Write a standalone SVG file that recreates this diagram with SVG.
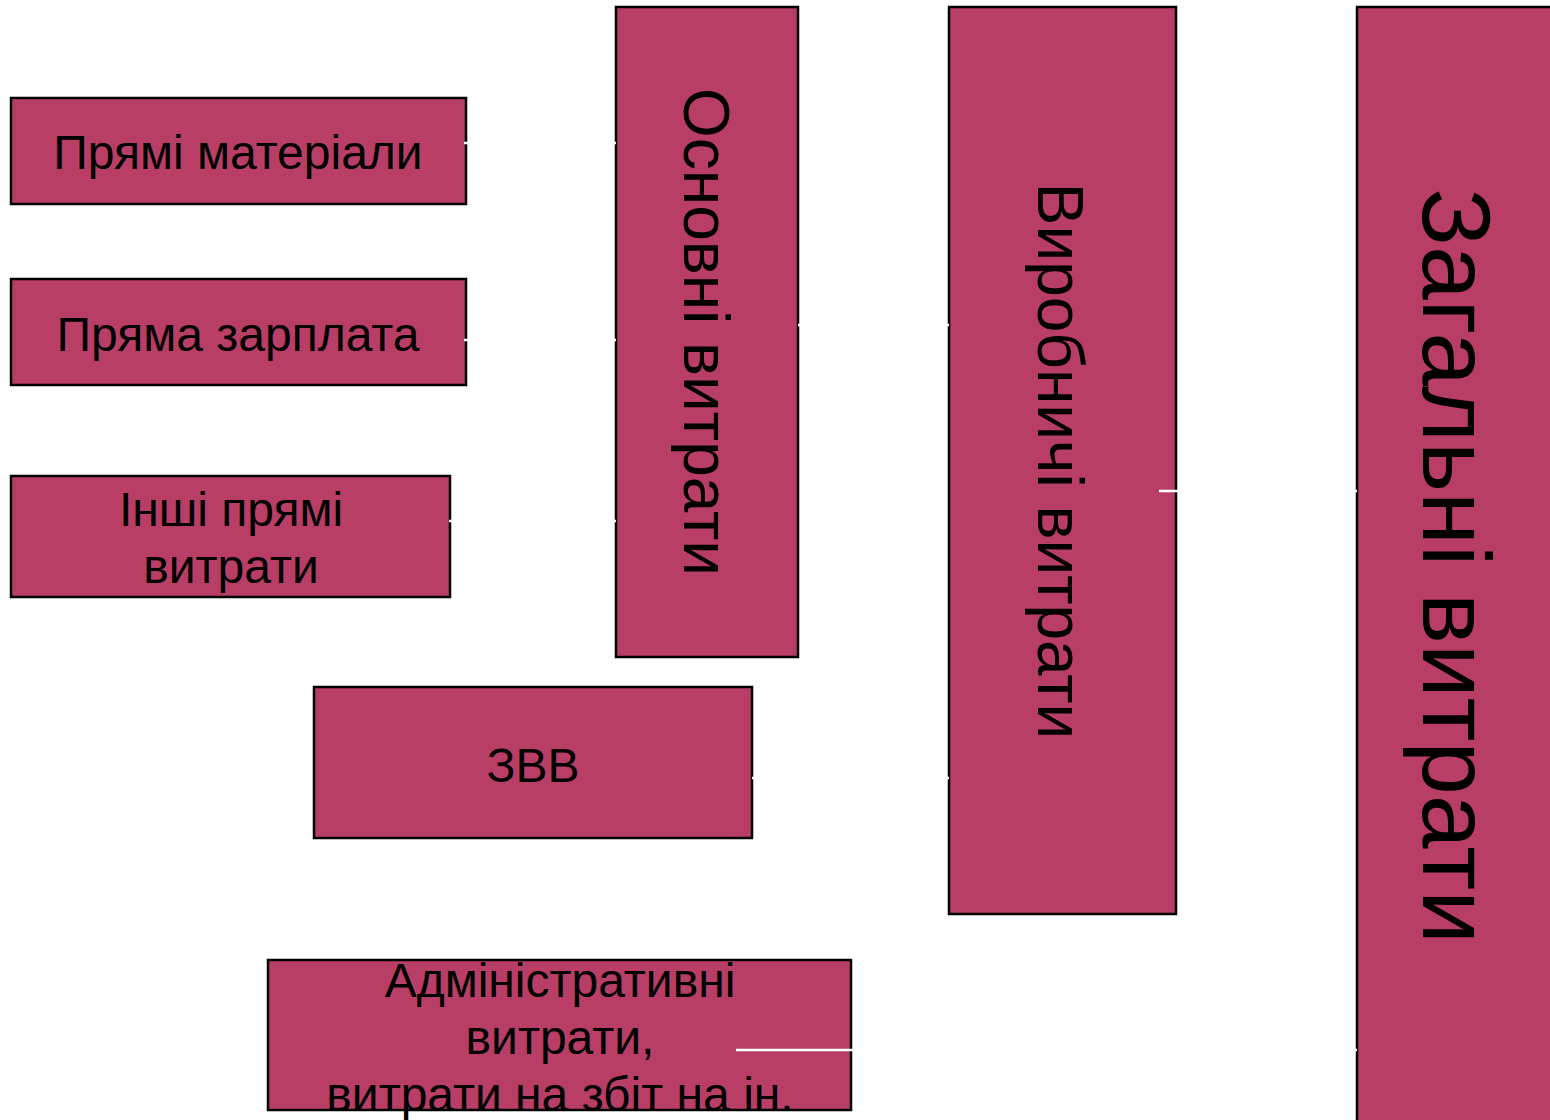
<svg xmlns="http://www.w3.org/2000/svg" width="1550" height="1120" viewBox="0 0 1550 1120">
  <style>
    .box { fill: #B93E66; stroke: #000; stroke-width: 2.5; }
    .t { font-family: "Liberation Sans", Arial, sans-serif; fill: #000; text-anchor: middle; }
    .s { font-size: 48px; }
    .m { font-size: 64px; }
    .l { font-size: 96px; }
    .conn { stroke: #fff; stroke-width: 2.5; fill: none; }
  </style>
  <rect width="1550" height="1120" fill="#fff"/>
  <g id="node-pryami-materialy">
    <rect class="box" x="11" y="98" width="455" height="106"/>
    <text class="t s" x="238" y="169">Прямі матеріали</text>
  </g>
  <g id="node-pryama-zarplata">
    <rect class="box" x="11" y="279" width="455" height="106"/>
    <text class="t s" x="238" y="351">Пряма зарплата</text>
  </g>
  <g id="node-inshi-pryami">
    <rect class="box" x="11" y="476" width="439" height="121"/>
    <text class="t s" x="231" y="526">Інші прямі</text>
    <text class="t s" x="231" y="583">витрати</text>
  </g>
  <g id="node-osnovni">
    <rect class="box" x="616" y="7" width="182" height="650"/>
    <text class="t m" transform="translate(684,332) rotate(90)">Основні витрати</text>
  </g>
  <g id="node-zvv">
    <rect class="box" x="314" y="687" width="438" height="151"/>
    <text class="t s" x="533" y="782">ЗВВ</text>
  </g>
  <g id="node-vyrobnychi">
    <rect class="box" x="949" y="7" width="227" height="907"/>
    <text class="t m" transform="translate(1038,461) rotate(90)">Виробничі витрати</text>
  </g>
  <g id="node-admin">
    <rect class="box" x="268" y="960" width="583" height="150"/>
    <text class="t s" x="560" y="997">Адміністративні</text>
    <text class="t s" x="560" y="1054">витрати,</text>
    <text class="t s" x="560" y="1111">витрати на збіт на ін.</text>
  </g>
  <g id="node-zagalni">
    <rect class="box" x="1357" y="7" width="200" height="1125"/>
    <text class="t l" transform="translate(1423,566) rotate(90)">Загальні витрати</text>
  </g>
  <g id="connectors">
    <line class="conn" x1="464" y1="143" x2="616" y2="143"/>
    <line class="conn" x1="464" y1="340" x2="616" y2="340"/>
    <line class="conn" x1="449" y1="521" x2="616" y2="521"/>
    <line class="conn" x1="798" y1="325" x2="949" y2="325"/>
    <line class="conn" x1="752" y1="778" x2="949" y2="778"/>
    <line class="conn" x1="1159" y1="491" x2="1357" y2="491"/>
    <line class="conn" x1="736" y1="1050" x2="1357" y2="1050"/>
  </g>
</svg>
